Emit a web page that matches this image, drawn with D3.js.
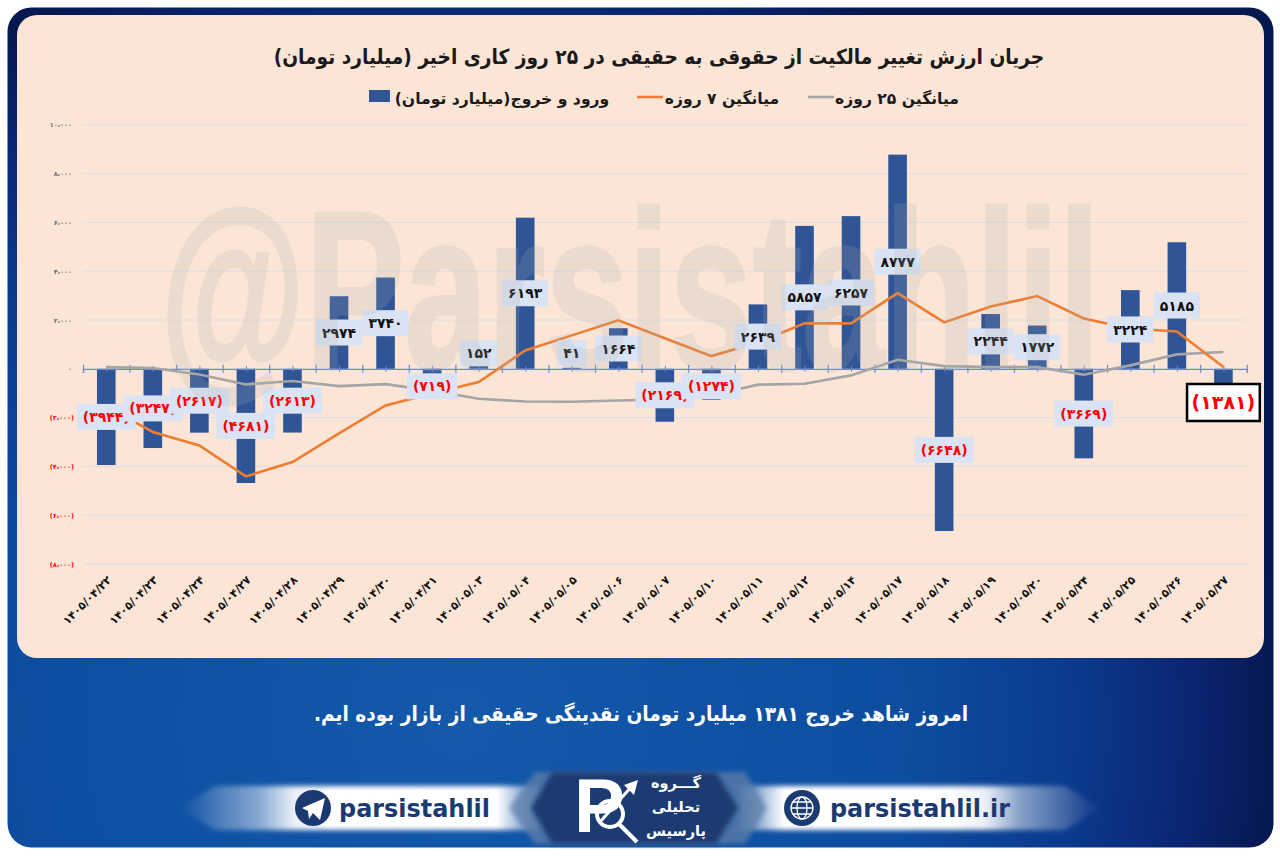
<!DOCTYPE html>
<html>
<head>
<meta charset="utf-8">
<script src="https://cdn.jsdelivr.net/npm/d3@7"></script>
<style>
html, body { margin: 0; padding: 0; background: #fff; }
svg { display: block; }
text { font-family: "DejaVu Sans", sans-serif; }
</style>
</head>
<body>
<div id="chart"></div>
<script>
// Data
var categories = [
  "1405/04/22", "1405/04/23", "1405/04/24", "1405/04/27", "1405/04/28",
  "1405/04/29", "1405/04/30", "1405/04/31", "1405/05/03", "1405/05/04",
  "1405/05/05", "1405/05/06", "1405/05/07", "1405/05/10", "1405/05/11",
  "1405/05/12", "1405/05/14", "1405/05/17", "1405/05/18", "1405/05/19",
  "1405/05/20", "1405/05/24", "1405/05/25", "1405/05/26", "1405/05/27"
];
var flows = [
  -3944, -3247, -2617, -4681, -2613, 2974, 3740, -719, 152, 6193, 41, 1664,
  -2169, -1274, 2639, 5857, 6257, 8777, -6648, 2244, 1772, -3669, 3224, 5185, -1381
];
var avg7 = [
  -1550, -2590, -3140, -4410, -3820, -2650, -1500, -1010, -545, 750, 1370, 1985,
  1250, 520, 1080, 1860, 1860, 3100, 1900, 2550, 2980, 2060, 1650, 1530, 70
];
var avg25 = [
  70, 30, -230, -640, -500, -710, -630, -900, -1225, -1340, -1350, -1300,
  -1260, -1090, -650, -610, -270, 370, 110, 70, 70, -240, 140, 590, 690
];
var yTicks = [-8000, -6000, -4000, -2000, 0, 2000, 4000, 6000, 8000, 10000];

var titleText = "جریان ارزش تغییر مالکیت از حقوقی به حقیقی در ۲۵ روز کاری اخیر (میلیارد تومان)";
var legendNames = ["ورود و خروج(میلیارد تومان)", "میانگین ۷ روزه", "میانگین ۲۵ روزه"];
var footerText = "امروز شاهد خروج ۱۳۸۱ میلیارد تومان نقدینگی حقیقی از بازار بوده ایم.";

var BAR = "#2f5597", ORANGE = "#ed7d31", GRAY = "#a5a5a5", NAVY = "#1b3a72";

// Latin digits to Persian digits
var fa = function(s) {
  return String(s).replace(/[0-9]/g, function(d) { return "۰۱۲۳۴۵۶۷۸۹"[+d]; });
};
var fmtTick = function(v) {
  var s = fa(d3.format(",")(Math.abs(v)).replace(",", "،"));
  return v < 0 ? "(" + s + ")" : s;
};
var fmtValue = function(v) {
  return v < 0 ? "(" + fa(-v) + ")" : fa(v);
};

var svg = d3.select("#chart").append("svg").attr("width", 1280).attr("height", 858);
var defs = svg.append("defs");

var frameGrad = defs.append("radialGradient").attr("id", "frame")
  .attr("gradientUnits", "userSpaceOnUse").attr("cx", 460).attr("cy", 720).attr("r", 820);
[[0, "#1459ab"], [0.55, "#0c4da0"], [0.75, "#0b3a8c"], [0.9, "#0a2470"], [1, "#05184f"]].forEach(function(s) {
  frameGrad.append("stop").attr("offset", s[0]).attr("stop-color", s[1]);
});

var ribbonGrad = function(id, x1, x2) {
  var g = defs.append("linearGradient").attr("id", id)
    .attr("gradientUnits", "userSpaceOnUse")
    .attr("x1", x1).attr("x2", x2).attr("y1", 0).attr("y2", 0);
  [[0, 0], [0.22, 0.5], [0.32, 0.92], [0.42, 1], [0.88, 1], [1, 0.2]].forEach(function(s) {
    g.append("stop").attr("offset", s[0]).attr("stop-color", "#fff").attr("stop-opacity", s[1]);
  });
};
ribbonGrad("ribbonL", 180, 540);
ribbonGrad("ribbonR", 1100, 740);
defs.append("filter").attr("id", "soft").attr("x", "-10%").attr("y", "-20%").attr("width", "120%").attr("height", "140%")
  .append("feGaussianBlur").attr("stdDeviation", 2.5);

// Frame and panel
svg.append("rect").attr("x", 7.5).attr("y", 7.5).attr("width", 1266).attr("height", 840)
  .attr("rx", 24).attr("fill", "url(#frame)");
svg.append("rect").attr("x", 17).attr("y", 15).attr("width", 1247).attr("height", 643)
  .attr("rx", 20).attr("fill", "#fbe5d6");

// Scales
var x = d3.scaleBand().domain(categories).range([83, 1246.7]).paddingInner(0.6).paddingOuter(0.3);
var y = d3.scaleLinear().domain([-8000, 10000]).range([564, 124.8]);
var xEdges = d3.scaleLinear().domain([0, 25]).range([83, 1246.7]);
var cx = function(i) { return x(categories[i]) + x.bandwidth() / 2; };

// Grid
svg.append("g").selectAll("line").data(yTicks.filter(function(d) { return d !== 0; })).enter().append("line")
  .attr("x1", 83).attr("x2", 1246.7)
  .attr("y1", function(d) { return y(d); }).attr("y2", function(d) { return y(d); })
  .attr("stroke", "#dcdfe4").attr("stroke-width", 1);

// Y axis
var yAxis = svg.append("g").attr("transform", "translate(72,0)")
  .call(d3.axisLeft(y).tickValues(yTicks).tickSize(0).tickPadding(0).tickFormat(fmtTick));
yAxis.select(".domain").remove();
yAxis.selectAll("text")
  .attr("font-size", 6.5).attr("font-weight", "bold")
  .style("font-family", '"DejaVu Sans", sans-serif')
  .attr("x", function(d) { return d < 0 ? 2 : 0; })
  .attr("fill", function(d) { return d < 0 ? "#ff0000" : "#6b6b6b"; });

// Bars
svg.append("g").selectAll("rect").data(flows).enter().append("rect")
  .attr("x", function(d, i) { return x(categories[i]); })
  .attr("width", x.bandwidth())
  .attr("y", function(d) { return y(Math.max(d, 0)); })
  .attr("height", function(d) { return Math.abs(y(d) - y(0)); })
  .attr("fill", BAR);

// Zero line with major and minor ticks
var zeroMajor = svg.append("g").attr("transform", "translate(0," + y(0) + ")")
  .call(d3.axisBottom(xEdges).tickValues(d3.range(0, 26)).tickSize(4).tickFormat(""));
zeroMajor.select(".domain").attr("stroke", "#6a8ac8").attr("stroke-width", 1.2);
zeroMajor.selectAll(".tick line").attr("y1", -4).attr("y2", 4).attr("stroke", "#6a8ac8").attr("stroke-width", 1.2);
var zeroMinor = svg.append("g").attr("transform", "translate(0," + y(0) + ")")
  .call(d3.axisBottom(xEdges).tickValues(d3.range(0.5, 25, 1)).tickSize(3).tickFormat(""));
zeroMinor.select(".domain").remove();
zeroMinor.selectAll(".tick line").attr("y1", -3).attr("y2", 3).attr("stroke", "#6a8ac8").attr("stroke-width", 1);

// X axis labels
var xAxis = svg.append("g").attr("transform", "translate(0,572)")
  .call(d3.axisBottom(x).tickSize(0).tickFormat(fa));
xAxis.select(".domain").remove();
xAxis.selectAll("text")
  .attr("y", 0).attr("dy", "0.35em")
  .attr("text-anchor", "end")
  .attr("transform", "translate(3,6) rotate(-45)")
  .attr("font-size", 11.2).attr("font-weight", "bold").attr("fill", "#111")
  .style("font-family", '"DejaVu Sans", sans-serif');

// Lines
var line = d3.line().x(function(d, i) { return cx(i); }).y(function(d) { return y(d); });
svg.append("path").datum(avg25).attr("d", line).attr("fill", "none")
  .attr("stroke", GRAY).attr("stroke-width", 2.6);
svg.append("path").datum(avg7).attr("d", line).attr("fill", "none")
  .attr("stroke", ORANGE).attr("stroke-width", 2.6);

// Value labels: centred on the bar, pushed clear of the zero line
var labels = svg.append("g").selectAll("g").data(flows).enter().append("g")
  .attr("transform", function(d, i) {
    var last = i === flows.length - 1;
    var ly = last ? y(d) : y(d / 2);
    if (!last) {
      ly = d < 0 ? Math.max(ly, y(0) + 17.5) : Math.min(ly, y(0) - 15.5);
    }
    return "translate(" + cx(i) + "," + ly + ")";
  });
labels.append("text")
  .attr("text-anchor", "middle").attr("dy", "0.36em")
  .attr("font-weight", "bold")
  .attr("font-size", function(d, i) { return i === flows.length - 1 ? 19 : 14; })
  .attr("fill", function(d) { return d < 0 ? "#ff0000" : "#111"; })
  .text(fmtValue);
labels.each(function(d, i) {
  var g = d3.select(this);
  var last = i === flows.length - 1;
  var w = g.select("text").node().getComputedTextLength() + (last ? 9 : 12);
  var h = last ? 37 : 26;
  g.insert("rect", "text")
    .attr("x", -w / 2).attr("y", -h / 2).attr("width", w).attr("height", h)
    .attr("fill", last ? "#fff" : "#dae3f3")
    .attr("stroke", last ? "#000" : "none").attr("stroke-width", last ? 2.5 : 0);
});

// Watermark sits over the chart
svg.append("text")
  .attr("x", 160).attr("y", 369)
  .attr("textLength", 940).attr("lengthAdjust", "spacingAndGlyphs")
  .attr("font-size", 226).attr("font-weight", "bold")
  .style("font-family", '"Liberation Sans", sans-serif')
  .attr("fill", "#acb0b1").attr("stroke", "#acb0b1").attr("stroke-width", 3)
  .attr("opacity", 0.19)
  .text("@Parsistahlil");

// Title
svg.append("text")
  .attr("x", 659).attr("y", 64).attr("text-anchor", "middle").attr("direction", "rtl")
  .attr("font-size", 20.7).attr("font-weight", "bold").attr("fill", "#1a1a1a")
  .style("font-family", '"DejaVu Sans Condensed", "DejaVu Sans", sans-serif')
  .text(titleText);

// Legend
var legendText = svg.append("g").attr("font-size", 15.6).attr("font-weight", "bold").attr("fill", "#1a1a1a")
  .style("font-family", '"DejaVu Sans Condensed", "DejaVu Sans", sans-serif');
var legendCenters = [502, 722, 897];
legendNames.forEach(function(name, i) {
  legendText.append("text")
    .attr("x", legendCenters[i]).attr("y", 104)
    .attr("text-anchor", "middle").attr("direction", "rtl")
    .text(name);
});
svg.append("rect").attr("x", 369).attr("y", 90).attr("width", 21).attr("height", 12).attr("fill", BAR);
svg.append("line").attr("x1", 637).attr("x2", 663).attr("y1", 97).attr("y2", 97)
  .attr("stroke", ORANGE).attr("stroke-width", 2.6);
svg.append("line").attr("x1", 808).attr("x2", 834).attr("y1", 97).attr("y2", 97)
  .attr("stroke", GRAY).attr("stroke-width", 2.6);

// Footer sentence
svg.append("text")
  .attr("x", 641).attr("y", 721).attr("text-anchor", "middle").attr("direction", "rtl")
  .attr("font-size", 20.6).attr("font-weight", "bold").attr("fill", "#fff")
  .style("font-family", '"DejaVu Sans Condensed", "DejaVu Sans", sans-serif')
  .text(footerText);

// Footer ribbons
svg.append("path").attr("d", "M180,808 L215,786 L540,786 L540,830 L215,830 Z")
  .attr("fill", "url(#ribbonL)").attr("filter", "url(#soft)");
svg.append("path").attr("d", "M1100,808 L1065,786 L740,786 L740,830 L1065,830 Z")
  .attr("fill", "url(#ribbonR)").attr("filter", "url(#soft)");

// Logo plate
svg.append("path").attr("d", "M509,808 L535,772 L745,772 L767,808 L745,844 L535,844 Z")
  .attr("fill", "#5f7fa8").attr("opacity", 0.75).attr("filter", "url(#soft)");
svg.append("path").attr("d", "M531,808 L552,772 L716,772 L738,808 L716,844 L552,844 Z")
  .attr("fill", "#1a3a72").attr("filter", "url(#soft)");
svg.append("text").attr("x", 574).attr("y", 832)
  .attr("font-size", 76).attr("font-weight", "bold").attr("fill", "#fff")
  .style("font-family", '"Liberation Sans", sans-serif').text("P");
svg.append("circle").attr("cx", 610).attr("cy", 814).attr("r", 13)
  .attr("fill", "none").attr("stroke", "#fff").attr("stroke-width", 4);
svg.append("path").attr("d", "M619,824 L637,842").attr("stroke", "#fff").attr("stroke-width", 4);
svg.append("path").attr("d", "M600,822 L632,786").attr("stroke", "#fff").attr("stroke-width", 3);
svg.append("path").attr("d", "M638,780 L624,785 L634,795 Z").attr("fill", "#fff");
var logoText = svg.append("g").attr("fill", "#fff").attr("font-size", 14.5).attr("font-weight", "bold")
  .style("font-family", '"DejaVu Sans Condensed", "DejaVu Sans", sans-serif');
[["گـــروه", 788], ["تحلیلی", 812], ["پارسیس", 836]].forEach(function(t) {
  logoText.append("text").attr("x", 676).attr("y", t[1])
    .attr("text-anchor", "middle").attr("direction", "rtl").text(t[0]);
});

// Telegram badge
svg.append("circle").attr("cx", 313).attr("cy", 808).attr("r", 18).attr("fill", NAVY);
svg.append("path").attr("d", "M302,808 L325,798 L320,820 L313,813 L309,819 L308,811 Z").attr("fill", "#fff");

// Web badge
svg.append("circle").attr("cx", 802).attr("cy", 808).attr("r", 18).attr("fill", NAVY);
var globe = svg.append("g").attr("fill", "none").attr("stroke", "#fff").attr("stroke-width", 1.3);
globe.append("circle").attr("cx", 802).attr("cy", 808).attr("r", 11);
globe.append("ellipse").attr("cx", 802).attr("cy", 808).attr("rx", 5).attr("ry", 11);
globe.append("path").attr("d", "M791,808 H813 M793,802 H811 M793,814 H811");

// Handles
var handle = svg.append("g").attr("font-size", 25).attr("font-weight", "bold").attr("fill", NAVY)
  .style("font-family", '"Liberation Sans", sans-serif');
handle.append("text").attr("x", 339).attr("y", 817).attr("textLength", 151).attr("lengthAdjust", "spacingAndGlyphs").text("parsistahlil");
handle.append("text").attr("x", 830).attr("y", 817).attr("textLength", 180).attr("lengthAdjust", "spacingAndGlyphs").text("parsistahlil.ir");
</script>
</body>
</html>
